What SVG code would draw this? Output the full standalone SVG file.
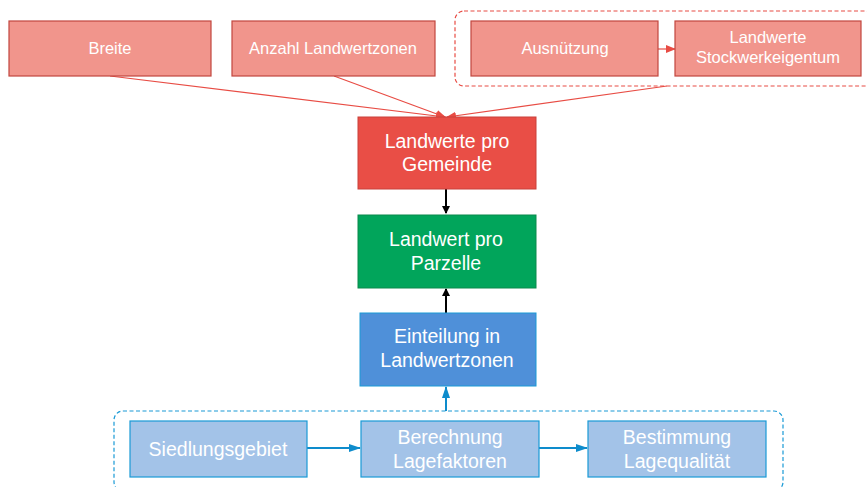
<svg xmlns="http://www.w3.org/2000/svg" width="867" height="487" viewBox="0 0 867 487">
<style>
text{font-family:"Liberation Sans",Arial,sans-serif;fill:#fff;text-anchor:middle}
.lr{fill:#f1958c;stroke:#c2473f;stroke-width:1.2}
.s{font-size:16.5px}
.m{font-size:19.5px}
.lb{fill:#a3c3e8;stroke:#1a9ad6;stroke-width:1.2}
</style>
<defs>
<marker id="ar" markerWidth="10" markerHeight="8" refX="9" refY="4" orient="auto" markerUnits="userSpaceOnUse"><path d="M0,0L10,4L0,8z" fill="#e84c44"/></marker>
<marker id="ak" markerWidth="8" markerHeight="10" refX="7" refY="4" orient="auto" markerUnits="userSpaceOnUse"><path d="M0,0L8,4L0,8z" fill="#000"/></marker>
<marker id="ab" markerWidth="12" markerHeight="8" refX="11" refY="4" orient="auto" markerUnits="userSpaceOnUse"><path d="M0,0L12,4L0,8z" fill="#0e8ccc"/></marker>
</defs>
<rect x="455" y="11" width="420" height="75" rx="9" fill="none" stroke="#e84c44" stroke-width="1.2" stroke-dasharray="4,2.5"/>
<rect x="114" y="411" width="669" height="80" rx="9" fill="none" stroke="#1a9ad6" stroke-width="1.2" stroke-dasharray="4,2.5"/>
<g id="connectors" fill="none">
<path d="M110,76L445,117" stroke="#e84c44" stroke-width="1.2" marker-end="url(#ar)"/>
<path d="M334,76L445,117" stroke="#e84c44" stroke-width="1.2" marker-end="url(#ar)"/>
<path d="M667,86L447,117" stroke="#e84c44" stroke-width="1.2" marker-end="url(#ar)"/>
<path d="M658,49L675,49" stroke="#e84c44" stroke-width="1.2" marker-end="url(#ar)"/>
<path d="M446,189L446,213" stroke="#000" stroke-width="2" marker-end="url(#ak)"/>
<path d="M446,313L446,289" stroke="#000" stroke-width="2" marker-end="url(#ak)"/>
<path d="M446,411L446,387" stroke="#0e8ccc" stroke-width="2" marker-end="url(#ab)"/>
<path d="M307,448L360,448" stroke="#0e8ccc" stroke-width="2" marker-end="url(#ab)"/>
<path d="M539,448L587,448" stroke="#0e8ccc" stroke-width="2" marker-end="url(#ab)"/>
</g>
<g id="breite"><rect class="lr" x="9" y="21" width="202" height="55"/><text class="s" x="110" y="54">Breite</text></g>
<g id="anzahl"><rect class="lr" x="232" y="21" width="203" height="55"/><text class="s" x="333" y="54">Anzahl Landwertzonen</text></g>
<g id="ausnuetzung"><rect class="lr" x="471" y="21" width="187" height="55"/><text class="s" x="565" y="54">Ausnützung</text></g>
<g id="stockwerk"><rect class="lr" x="675" y="21" width="186" height="55"/><text class="s" x="768" y="43">Landwerte</text><text class="s" x="768" y="63">Stockwerkeigentum</text></g>
<g id="gemeinde"><rect x="358" y="117" width="178" height="72" fill="#e94e46" stroke="#c9403a" stroke-width="1"/><text class="m" x="447" y="148">Landwerte pro</text><text class="m" x="447" y="171">Gemeinde</text></g>
<g id="parzelle"><rect x="358" y="215" width="178" height="73" fill="#01a55b" stroke="#0a8a4c" stroke-width="1"/><text class="m" x="446" y="246">Landwert pro</text><text class="m" x="446" y="270">Parzelle</text></g>
<g id="einteilung"><rect x="360" y="313" width="176" height="73" fill="#4f90d9" stroke="#1a9ad6" stroke-width="1"/><text class="m" x="447" y="343">Einteilung in</text><text class="m" x="447" y="367">Landwertzonen</text></g>
<g id="siedlung"><rect class="lb" x="130" y="421" width="177" height="56"/><text class="m" x="218" y="456">Siedlungsgebiet</text></g>
<g id="berechnung"><rect class="lb" x="361" y="421" width="178" height="56"/><text class="m" x="450" y="444">Berechnung</text><text class="m" x="450" y="468">Lagefaktoren</text></g>
<g id="bestimmung"><rect class="lb" x="588" y="421" width="178" height="56"/><text class="m" x="677" y="444">Bestimmung</text><text class="m" x="677" y="468">Lagequalität</text></g>
</svg>
